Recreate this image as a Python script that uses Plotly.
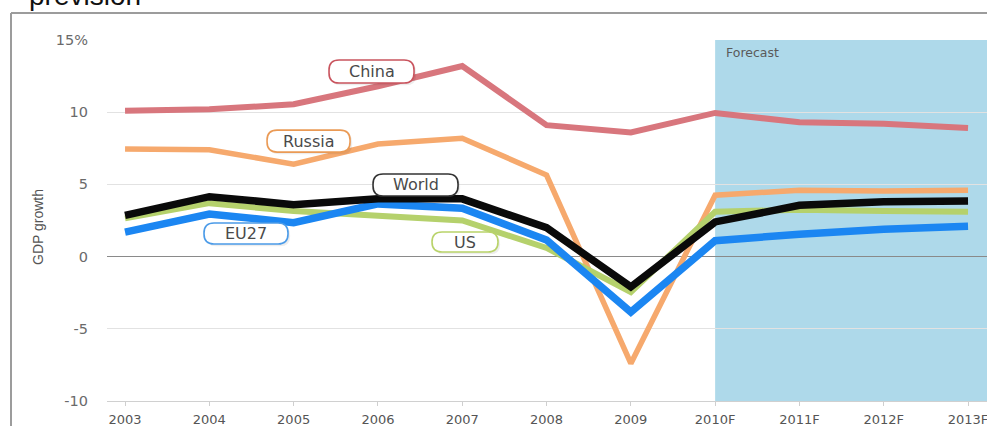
import plotly.graph_objects as go

# Annual GDP growth (%) with forecasts from 2010 onwards
years = ["2003", "2004", "2005", "2006", "2007", "2008", "2009",
         "2010F", "2011F", "2012F", "2013F"]
china = [10.1, 10.2, 10.55, 11.8, 13.2, 9.1, 8.6, 9.95, 9.3, 9.2, 8.9]
russia = [7.45, 7.4, 6.4, 7.8, 8.2, 5.65, -7.4, 4.25, 4.6, 4.55, 4.6]
us = [2.65, 3.7, 3.15, 2.8, 2.5, 0.6, -2.45, 3.1, 3.25, 3.15, 3.1]
eu27 = [1.7, 2.95, 2.35, 3.65, 3.35, 1.15, -3.85, 1.1, 1.55, 1.9, 2.1]
world = [2.85, 4.15, 3.6, 4.0, 4.0, 2.0, -2.1, 2.4, 3.55, 3.8, 3.85]

y_ticks = [-10, -5, 0, 5, 10, 15]
y_ticktext = ["-10", "-5", "0", "5", "10", "15%"]

W, H = 987, 426
ML, MR, MT, MB = 107, 0, 40, 25
PW, PH = W - ML - MR, H - MT - MB


def px(x):
    return (x - ML) / PW


def py(y):
    return (H - MB - y) / PH


def rounded_rect(w, h, r):
    hw, hh = w / 2, h / 2
    return (f"M {-hw + r},{-hh} L {hw - r},{-hh} Q {hw},{-hh} {hw},{-hh + r} "
            f"L {hw},{hh - r} Q {hw},{hh} {hw - r},{hh} "
            f"L {-hw + r},{hh} Q {-hw},{hh} {-hw},{hh - r} "
            f"L {-hw},{-hh + r} Q {-hw},{-hh} {-hw + r},{-hh} Z")


series = [
    ("China", china, "#d8767d", 6),
    ("Russia", russia, "#f6a96d", 5.5),
    ("US", us, "#b5d16c", 6),
    ("EU27", eu27, "#1b86f2", 7.5),
    ("World", world, "#0a0a0a", 7.5),
]

fig = go.Figure()
for name, vals, color, width in series:
    fig.add_trace(go.Scatter(
        x=years, y=vals, name=name, mode="lines",
        line=dict(color=color, width=width),
        hoverinfo="x+y+name",
    ))

shapes = []
annotations = []

# Forecast band
shapes.append(dict(type="rect", xref="x", yref="paper", x0=7, x1=10.6, y0=0, y1=1,
                   fillcolor="#aed9ea", line=dict(width=0), layer="below"))
annotations.append(dict(text="Forecast", xref="x", yref="paper", x=7.1, y=py(52),
                        xanchor="left", yanchor="middle", showarrow=False,
                        font=dict(family="DejaVu Sans", size=12.5, color="#5a5a5a")))

# Series name tags: (text, x index, y value, width, height, border colour)
tags = [
    ("China", 2.924, 12.82, 85, 23, "#c9545e"),
    ("Russia", 2.177, 8.0, 83, 22, "#ea9a55"),
    ("World", 3.446, 4.96, 85, 22, "#333333"),
    ("EU27", 1.435, 1.6, 84, 21, "#4b9be8"),
    ("US", 4.033, 1.01, 66, 20, "#b9d36a"),
]
for text, tx, ty, w, h, bc in tags:
    shapes.append(dict(type="path", xref="x", yref="y", xsizemode="pixel",
                       ysizemode="pixel", xanchor=tx + 0.025, yanchor=ty - 0.15,
                       path=rounded_rect(w, h, 10), fillcolor="rgba(0,0,0,0.07)",
                       line=dict(width=0), layer="above"))
    shapes.append(dict(type="path", xref="x", yref="y", xsizemode="pixel",
                       ysizemode="pixel", xanchor=tx, yanchor=ty,
                       path=rounded_rect(w, h, 10), fillcolor="white",
                       line=dict(color=bc, width=1.6), layer="above"))
    annotations.append(dict(text=text, xref="x", yref="y", x=tx, y=ty,
                            showarrow=False, xanchor="center", yanchor="middle",
                            font=dict(family="DejaVu Sans", size=16,
                                      color="#4a4a4a")))

# Outer frame
frame = "#9c9c9c"
shapes.append(dict(type="line", xref="paper", yref="paper", x0=px(11), x1=px(11),
                   y0=py(13), y1=py(H + 2), line=dict(color=frame, width=2)))
shapes.append(dict(type="line", xref="paper", yref="paper", x0=px(11), x1=px(W + 2),
                   y0=py(13), y1=py(13), line=dict(color=frame, width=2)))

# Page heading above the frame
annotations.append(dict(text="prevision", xref="paper", yref="paper", x=px(27),
                        y=py(13), xanchor="left", yanchor="bottom", showarrow=False,
                        font=dict(family="Liberation Sans", size=28, color="#111111")))

# Axis title
annotations.append(dict(text="GDP growth", xref="paper", yref="paper", x=px(38),
                        y=py(227), textangle=-90, xanchor="center", yanchor="middle",
                        showarrow=False,
                        font=dict(family="Liberation Sans", size=14, color="#555555")))

fig.update_layout(
    width=W, height=H,
    margin=dict(l=ML, r=MR, t=MT, b=MB, pad=0),
    paper_bgcolor="white", plot_bgcolor="white",
    showlegend=False,
    shapes=shapes, annotations=annotations,
    xaxis=dict(
        type="category", categoryorder="array", categoryarray=years,
        range=[-0.214, 10.225], showgrid=False, zeroline=False,
        showline=True, linecolor="#d0d0d0", linewidth=1,
        ticks="outside", ticklen=4, tickcolor="#cfcfcf", tickwidth=1,
        tickfont=dict(family="DejaVu Sans", size=13, color="#555555"),
        ticklabelstandoff=2,
    ),
    yaxis=dict(
        range=[-10, 15], tickvals=y_ticks, ticktext=y_ticktext,
        showgrid=True, gridcolor="#e2e2e2", gridwidth=1,
        zeroline=True, zerolinecolor="#8a8a8a", zerolinewidth=1.2,
        showline=False, ticks="",
        tickfont=dict(family="DejaVu Sans", size=14.5, color="#6a6a6a"),
        ticklabelstandoff=18,
    ),
)

fig.write_html("out.html")
